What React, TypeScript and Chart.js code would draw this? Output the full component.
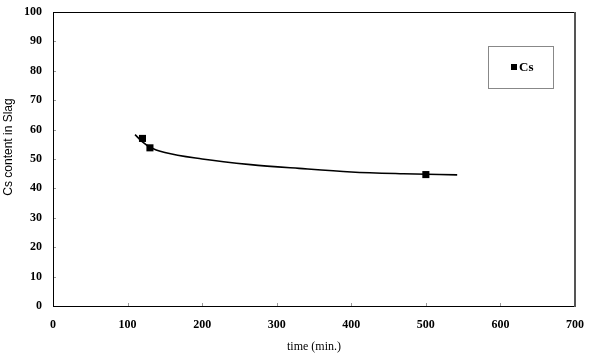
import React, { useEffect, useRef } from "react";
import { Chart, registerables } from "chart.js";

Chart.register(...registerables);

const seriesLabel = "Cs";
const timeMin = [120, 130, 500];
const csContent = [57, 53.8, 44.7];

const trendTime = [110, 120, 130, 150, 200, 265, 330, 400, 470, 542];
const trendValue = [58.3, 55.8, 54.0, 52.2, 50.0, 48.1, 46.8, 45.6, 45.0, 44.6];

const xTicks = [0, 100, 200, 300, 400, 500, 600, 700];
const yTicks = [0, 10, 20, 30, 40, 50, 60, 70, 80, 90, 100];

const xTitle = "time (min.)";
const yTitle = "Cs content in Slag";

const framePlugin = {
  id: "frame",
  afterDatasetsDraw(chart: any) {
    const { ctx, chartArea: a, scales } = chart;
    ctx.save();
    // inner tick marks
    ctx.strokeStyle = "#999";
    ctx.lineWidth = 1;
    xTicks.forEach((v) => {
      const px = Math.round(scales.x.getPixelForValue(v)) + 0.5;
      ctx.beginPath();
      ctx.moveTo(px, a.bottom);
      ctx.lineTo(px, a.bottom - 3);
      ctx.stroke();
    });
    yTicks.forEach((v) => {
      const py = Math.round(scales.y.getPixelForValue(v)) + 0.5;
      ctx.beginPath();
      ctx.moveTo(a.left, py);
      ctx.lineTo(a.left + 3, py);
      ctx.stroke();
    });
    // frame
    ctx.strokeStyle = "#000";
    ctx.lineWidth = 1;
    ctx.beginPath();
    ctx.moveTo(a.left, a.top + 0.5);
    ctx.lineTo(a.right, a.top + 0.5);
    ctx.moveTo(a.left + 0.5, a.top);
    ctx.lineTo(a.left + 0.5, a.bottom);
    ctx.moveTo(a.left, a.bottom + 0.5);
    ctx.lineTo(a.right, a.bottom + 0.5);
    ctx.stroke();
    ctx.strokeStyle = "#555";
    ctx.lineWidth = 2;
    ctx.beginPath();
    ctx.moveTo(a.right, a.top);
    ctx.lineTo(a.right, a.bottom + 1);
    ctx.stroke();

    // axis titles
    ctx.fillStyle = "#000";
    ctx.font = "12px 'Liberation Serif', serif";
    ctx.textAlign = "center";
    ctx.textBaseline = "middle";
    ctx.fillText(xTitle, (a.left + a.right) / 2, 347);
    ctx.save();
    ctx.translate(9, 147);
    ctx.rotate(-Math.PI / 2);
    ctx.font = "12px 'Liberation Sans', Arial, sans-serif";
    ctx.fillText(yTitle, 0, 0);
    ctx.restore();

    // legend box
    const bx = 488, by = 46, bw = 65, bh = 42;
    ctx.strokeStyle = "#888";
    ctx.lineWidth = 1;
    ctx.strokeRect(bx + 0.5, by + 0.5, bw, bh);
    ctx.fillStyle = "#000";
    ctx.fillRect(511, 64, 6, 6);
    ctx.font = "bold 13px 'Liberation Serif', serif";
    ctx.textAlign = "left";
    ctx.fillText(chart.data.datasets[0].label, 519, 67.5);
    ctx.restore();
  },
};

export default function App() {
  const ref = useRef<HTMLCanvasElement>(null);
  useEffect(() => {
    if (!ref.current) return;
    const chart = new Chart(ref.current, {
      type: "scatter",
      data: {
        datasets: [
          {
            label: seriesLabel,
            data: timeMin.map((t, i) => ({ x: t, y: csContent[i] })),
            pointStyle: "rect",
            pointRadius: 5,
            pointHoverRadius: 5,
            backgroundColor: "#000",
            borderColor: "#000",
            borderWidth: 0,
            showLine: false,
            order: 0,
          },
          {
            label: "trend",
            data: trendTime.map((t, i) => ({ x: t, y: trendValue[i] })),
            showLine: true,
            borderColor: "#000",
            borderWidth: 1.6,
            pointRadius: 0,
            cubicInterpolationMode: "monotone",
            fill: false,
            order: 1,
          } as any,
        ],
      },
      options: {
        animation: false,
        responsive: false,
        maintainAspectRatio: false,
        layout: { padding: { left: 0, right: 15, top: 12, bottom: 0 } },
        plugins: { legend: { display: false }, tooltip: { enabled: false } },
        scales: {
          x: {
            type: "linear",
            min: 0,
            max: 700,
            afterBuildTicks: (s: any) => {
              s.ticks = xTicks.map((v) => ({ value: v }));
            },
            afterFit: (s: any) => {
              s.height = 55;
              s.paddingLeft = 0;
              s.paddingRight = 0;
            },
            grid: { display: false, drawTicks: false },
            border: { display: false },
            ticks: {
              padding: 12,
              color: "#000",
              font: { family: "'Liberation Serif', serif", size: 12, weight: "bold" },
              maxRotation: 0,
            },
          },
          y: {
            type: "linear",
            min: 0,
            max: 100,
            afterBuildTicks: (s: any) => {
              s.ticks = yTicks.map((v) => ({ value: v }));
            },
            afterFit: (s: any) => {
              s.width = 53;
              s.paddingTop = 0;
              s.paddingBottom = 0;
            },
            grid: { display: false, drawTicks: false },
            border: { display: false },
            ticks: {
              padding: 11,
              color: "#000",
              font: { family: "'Liberation Serif', serif", size: 12, weight: "bold" },
            },
          },
        },
      },
      plugins: [framePlugin],
    });
    return () => chart.destroy();
  }, []);
  return (
    <div style={{ position: "absolute", left: 0, top: 0, width: 590, height: 361, background: "#fff" }}>
      <canvas ref={ref} width={590} height={361} style={{ width: 590, height: 361 }} />
    </div>
  );
}
